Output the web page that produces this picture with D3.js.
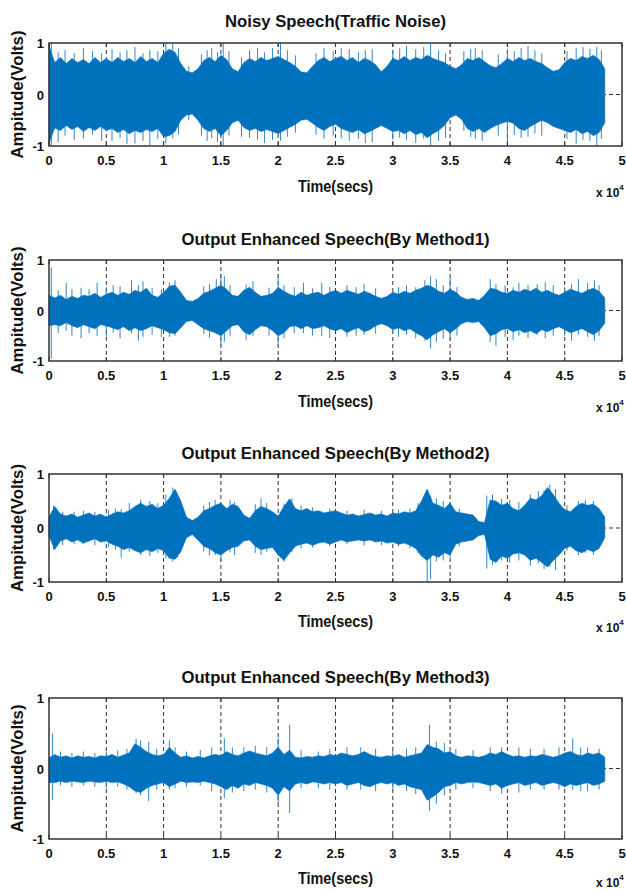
<!DOCTYPE html>
<html>
<head>
<meta charset="utf-8">
<script src="https://cdn.jsdelivr.net/npm/d3@7/dist/d3.min.js"></script>
<style>
  html, body { margin: 0; padding: 0; background: #fff; }
  svg { display: block; }
  text { font-family: "Liberation Sans", Arial, sans-serif; font-weight: bold; fill: #111; }
</style>
</head>
<body>
<svg id="chart" width="626" height="890"></svg>
<script>
// ---- data (x in units of 1e4 samples) ----
const xTicks = [0, 0.5, 1, 1.5, 2, 2.5, 3, 3.5, 4, 4.5, 5];
const xTickLabels = ["0", "0.5", "1", "1.5", "2", "2.5", "3", "3.5", "4", "4.5", "5"];
const yTicks = [-1, 0, 1];
const yTickLabels = ["-1", "0", "1"];
const titles = [
  "Noisy Speech(Traffic Noise)",
  "Output Enhanced Speech(By Method1)",
  "Output Enhanced Speech(By Method2)",
  "Output Enhanced Speech(By Method3)"
];
const STEP = 0.05; // envelope sample spacing (x1e4 samples)

// envelope: upper / lower amplitude every 500 samples
const noisyUpper = [0.95,0.62,0.72,0.6,0.7,0.62,0.68,0.6,0.72,0.62,0.7,0.62,0.72,0.64,0.7,0.62,0.74,0.64,0.7,0.62,
  0.8,0.88,0.82,0.6,0.45,0.42,0.5,0.66,0.72,0.64,0.76,0.68,0.5,0.44,0.62,0.7,0.64,0.72,0.66,0.7,
  0.74,0.68,0.62,0.55,0.44,0.42,0.55,0.66,0.72,0.64,0.7,0.74,0.66,0.72,0.62,0.7,0.66,0.58,0.44,0.55,
  0.7,0.66,0.74,0.66,0.72,0.68,0.76,0.7,0.66,0.62,0.55,0.5,0.58,0.7,0.66,0.72,0.64,0.56,0.52,0.6,
  0.7,0.64,0.72,0.66,0.7,0.64,0.6,0.52,0.45,0.48,0.62,0.7,0.66,0.74,0.7,0.76,0.68,0.5];
const noisyLower = [-0.95,-0.65,-0.7,-0.6,-0.68,-0.62,-0.72,-0.64,-0.7,-0.62,-0.7,-0.66,-0.74,-0.68,-0.76,-0.7,-0.74,-0.68,-0.72,-0.66,
  -0.82,-0.8,-0.72,-0.5,-0.4,-0.38,-0.5,-0.66,-0.72,-0.66,-0.8,-0.7,-0.55,-0.5,-0.64,-0.7,-0.66,-0.72,-0.68,-0.72,
  -0.76,-0.7,-0.64,-0.58,-0.5,-0.48,-0.56,-0.64,-0.7,-0.62,-0.58,-0.66,-0.7,-0.74,-0.68,-0.76,-0.72,-0.66,-0.6,-0.66,
  -0.72,-0.7,-0.76,-0.7,-0.78,-0.74,-0.84,-0.76,-0.7,-0.6,-0.45,-0.4,-0.48,-0.66,-0.72,-0.66,-0.74,-0.66,-0.6,-0.56,
  -0.52,-0.56,-0.66,-0.7,-0.62,-0.56,-0.5,-0.55,-0.62,-0.66,-0.7,-0.74,-0.68,-0.76,-0.72,-0.8,-0.74,-0.55];
const m1Upper = [0.3,0.25,0.3,0.22,0.28,0.24,0.3,0.28,0.34,0.26,0.32,0.36,0.3,0.36,0.32,0.4,0.36,0.44,0.3,0.26,
  0.36,0.48,0.5,0.36,0.2,0.18,0.24,0.34,0.38,0.44,0.5,0.42,0.3,0.28,0.4,0.46,0.36,0.28,0.3,0.34,
  0.46,0.38,0.32,0.28,0.36,0.3,0.34,0.36,0.3,0.36,0.4,0.34,0.4,0.36,0.32,0.38,0.34,0.28,0.24,0.28,
  0.36,0.32,0.38,0.34,0.4,0.44,0.5,0.46,0.38,0.34,0.42,0.36,0.26,0.22,0.24,0.2,0.3,0.44,0.42,0.36,
  0.34,0.4,0.36,0.42,0.38,0.44,0.36,0.4,0.34,0.3,0.36,0.42,0.38,0.34,0.4,0.44,0.38,0.25];
const m1Lower = [-0.3,-0.28,-0.3,-0.24,-0.3,-0.34,-0.28,-0.32,-0.36,-0.28,-0.3,-0.34,-0.38,-0.32,-0.4,-0.34,-0.4,-0.36,-0.3,-0.34,
  -0.38,-0.44,-0.46,-0.34,-0.22,-0.2,-0.28,-0.36,-0.4,-0.44,-0.5,-0.4,-0.3,-0.28,-0.42,-0.48,-0.38,-0.3,-0.32,-0.4,
  -0.5,-0.44,-0.32,-0.3,-0.36,-0.3,-0.36,-0.34,-0.3,-0.36,-0.4,-0.36,-0.44,-0.38,-0.34,-0.42,-0.38,-0.3,-0.26,-0.3,
  -0.38,-0.34,-0.4,-0.36,-0.44,-0.5,-0.58,-0.48,-0.42,-0.36,-0.44,-0.36,-0.26,-0.22,-0.24,-0.22,-0.34,-0.5,-0.46,-0.38,
  -0.36,-0.42,-0.38,-0.44,-0.4,-0.46,-0.38,-0.42,-0.36,-0.32,-0.38,-0.44,-0.4,-0.36,-0.42,-0.48,-0.4,-0.25];
const m2Upper = [0.2,0.4,0.26,0.22,0.26,0.2,0.24,0.28,0.22,0.26,0.2,0.26,0.3,0.28,0.32,0.4,0.46,0.4,0.44,0.36,
  0.42,0.55,0.72,0.5,0.2,0.14,0.2,0.32,0.36,0.42,0.46,0.36,0.44,0.4,0.24,0.18,0.32,0.4,0.36,0.3,
  0.22,0.4,0.54,0.36,0.32,0.36,0.3,0.32,0.28,0.3,0.32,0.28,0.24,0.26,0.22,0.25,0.28,0.24,0.26,0.22,
  0.28,0.26,0.3,0.28,0.32,0.5,0.72,0.46,0.42,0.36,0.46,0.3,0.28,0.26,0.24,0.12,0.1,0.52,0.5,0.42,
  0.46,0.36,0.32,0.42,0.55,0.52,0.6,0.75,0.62,0.46,0.34,0.3,0.4,0.46,0.42,0.44,0.36,0.2];
const m2Lower = [-0.15,-0.4,-0.24,-0.2,-0.26,-0.22,-0.28,-0.24,-0.2,-0.26,-0.24,-0.3,-0.34,-0.4,-0.36,-0.42,-0.46,-0.4,-0.44,-0.38,
  -0.42,-0.56,-0.58,-0.44,-0.18,-0.12,-0.22,-0.34,-0.38,-0.46,-0.5,-0.42,-0.36,-0.34,-0.24,-0.22,-0.34,-0.4,-0.38,-0.36,
  -0.5,-0.6,-0.46,-0.34,-0.3,-0.28,-0.32,-0.28,-0.26,-0.3,-0.26,-0.22,-0.26,-0.24,-0.22,-0.24,-0.22,-0.26,-0.24,-0.28,
  -0.26,-0.3,-0.28,-0.32,-0.38,-0.52,-0.6,-0.5,-0.54,-0.46,-0.5,-0.3,-0.26,-0.24,-0.22,-0.14,-0.12,-0.58,-0.64,-0.52,
  -0.56,-0.48,-0.46,-0.5,-0.6,-0.56,-0.64,-0.72,-0.6,-0.5,-0.38,-0.34,-0.42,-0.46,-0.4,-0.44,-0.38,-0.18];
const m3Upper = [0.15,0.2,0.16,0.18,0.15,0.18,0.16,0.17,0.15,0.18,0.17,0.2,0.16,0.19,0.22,0.35,0.3,0.24,0.2,0.18,
  0.2,0.3,0.22,0.16,0.18,0.15,0.17,0.15,0.18,0.2,0.18,0.24,0.2,0.18,0.22,0.25,0.22,0.2,0.18,0.22,
  0.3,0.2,0.26,0.16,0.15,0.17,0.16,0.18,0.17,0.2,0.18,0.22,0.2,0.18,0.2,0.24,0.2,0.17,0.16,0.18,
  0.17,0.2,0.16,0.18,0.2,0.22,0.34,0.3,0.28,0.22,0.24,0.18,0.16,0.18,0.17,0.16,0.18,0.22,0.2,0.24,
  0.2,0.17,0.18,0.16,0.18,0.17,0.2,0.18,0.16,0.18,0.22,0.24,0.2,0.18,0.22,0.2,0.22,0.16];
const m3Lower = [-0.2,-0.2,-0.18,-0.2,-0.18,-0.19,-0.2,-0.18,-0.19,-0.2,-0.18,-0.2,-0.19,-0.22,-0.26,-0.32,-0.34,-0.28,-0.24,-0.22,
  -0.2,-0.26,-0.22,-0.18,-0.2,-0.19,-0.2,-0.18,-0.2,-0.22,-0.26,-0.3,-0.24,-0.28,-0.22,-0.24,-0.2,-0.22,-0.24,-0.28,
  -0.38,-0.26,-0.32,-0.22,-0.2,-0.22,-0.19,-0.2,-0.22,-0.2,-0.22,-0.2,-0.24,-0.22,-0.2,-0.24,-0.26,-0.22,-0.2,-0.22,
  -0.2,-0.24,-0.22,-0.26,-0.28,-0.3,-0.45,-0.4,-0.34,-0.26,-0.24,-0.2,-0.22,-0.2,-0.19,-0.2,-0.22,-0.24,-0.22,-0.28,
  -0.24,-0.22,-0.2,-0.24,-0.22,-0.2,-0.24,-0.22,-0.2,-0.22,-0.26,-0.22,-0.24,-0.22,-0.2,-0.24,-0.22,-0.18];

// isolated peaks: [x (x1e4), positive peak, negative peak]
const noisySpikes = [[0.02,1.0,-1.0],[0.08,0.82,-0.92],[0.14,0.86,-0.8],[0.22,0.8,-0.88],[0.3,0.9,-0.85],[0.38,0.84,-0.78],
  [0.46,0.8,-0.9],[0.55,0.88,-0.9],[0.62,0.82,-0.84],[0.68,0.86,-0.96],[0.75,0.92,-0.95],[0.82,0.8,-0.9],[0.88,0.86,-0.98],
  [0.95,0.84,-0.86],[1.02,0.98,-0.95],[1.08,1.0,-0.85],[1.13,0.9,-0.78],[1.22,0.55,-0.5],[1.33,0.78,-0.8],[1.38,0.86,-0.9],
  [1.42,0.9,-0.85],[1.47,0.82,-0.92],[1.52,1.0,-1.0],[1.57,0.84,-0.8],[1.68,0.72,-0.82],[1.75,0.86,-0.84],[1.82,0.9,-0.88],
  [1.88,0.82,-0.94],[1.95,0.9,-0.88],[2.02,1.0,-0.9],[2.08,0.86,-0.82],[2.15,0.76,-0.74],[2.33,0.8,-0.78],[2.4,0.9,-0.86],
  [2.48,0.84,-0.8],[2.55,0.9,-0.85],[2.62,0.88,-0.9],[2.7,0.82,-0.86],[2.76,0.86,-0.94],[2.82,0.88,-0.92],[3.0,0.86,-0.88],
  [3.06,0.9,-0.84],[3.12,0.95,-0.88],[3.2,0.88,-0.94],[3.27,0.92,-0.86],[3.33,0.98,-1.0],[3.4,0.86,-0.9],[3.46,0.8,-0.84],
  [3.62,0.84,-0.7],[3.68,0.88,-0.82],[3.72,0.9,-0.86],[3.78,0.86,-0.9],[3.92,0.78,-0.8],[4.0,0.88,-0.9],[4.06,0.84,-0.78],
  [4.12,0.9,-0.84],[4.18,0.94,-0.82],[4.24,0.86,-0.76],[4.3,0.8,-0.8],[4.52,0.84,-0.86],[4.6,0.9,-0.95],[4.66,0.92,-0.88],
  [4.72,0.88,-0.9],[4.78,0.92,-1.0],[4.82,0.86,-0.86]];
const m1Spikes = [[0.02,0.85,-0.95],[0.08,0.4,-0.45],[0.15,0.55,-0.4],[0.2,0.42,-0.5],[0.28,0.45,-0.55],[0.35,0.42,-0.45],
  [0.42,0.55,-0.5],[0.5,0.46,-0.52],[0.56,0.5,-0.44],[0.62,0.48,-0.55],[0.72,0.6,-0.45],[0.78,0.5,-0.6],[0.82,0.58,-0.52],
  [0.9,0.45,-0.48],[0.98,0.42,-0.52],[1.05,0.55,-0.52],[1.1,0.6,-0.5],[1.35,0.48,-0.46],[1.4,0.52,-0.54],[1.46,0.62,-0.45],
  [1.5,0.72,-0.7],[1.53,0.68,-0.62],[1.58,0.5,-0.5],[1.72,0.52,-0.58],[1.78,0.58,-0.5],[1.92,0.45,-0.5],[2.0,0.72,-0.72],
  [2.05,0.5,-0.55],[2.14,0.46,-0.45],[2.22,0.55,-0.45],[2.3,0.44,-0.5],[2.38,0.55,-0.5],[2.45,0.46,-0.55],[2.6,0.5,-0.52],
  [2.68,0.46,-0.5],[2.75,0.52,-0.48],[2.85,0.44,-0.46],[3.05,0.46,-0.52],[3.12,0.5,-0.48],[3.2,0.46,-0.55],[3.28,0.6,-0.6],
  [3.33,0.68,-0.75],[3.38,0.62,-0.62],[3.44,0.5,-0.56],[3.5,0.65,-0.6],[3.56,0.46,-0.5],[3.85,0.62,-0.62],[3.9,0.52,-0.7],
  [3.98,0.5,-0.52],[4.05,0.46,-0.58],[4.1,0.55,-0.5],[4.18,0.5,-0.54],[4.26,0.52,-0.48],[4.33,0.56,-0.55],[4.4,0.5,-0.5],
  [4.5,0.46,-0.5],[4.56,0.52,-0.6],[4.62,0.62,-0.48],[4.7,0.55,-0.52],[4.76,0.6,-0.6],[4.8,0.5,-0.5]];
const m2Spikes = [[0.04,0.42,-0.4],[0.12,0.3,-0.32],[0.22,0.3,-0.3],[0.3,0.32,-0.3],[0.4,0.3,-0.32],[0.52,0.34,-0.36],
  [0.58,0.36,-0.4],[0.63,0.35,-0.55],[0.7,0.46,-0.44],[0.8,0.52,-0.5],[0.88,0.5,-0.52],[0.95,0.46,-0.46],[1.02,0.62,-0.56],
  [1.08,0.75,-0.62],[1.12,0.6,-0.55],[1.35,0.42,-0.44],[1.4,0.48,-0.5],[1.45,0.52,-0.5],[1.5,0.45,-0.62],[1.58,0.52,-0.45],
  [1.62,0.48,-0.5],[1.8,0.44,-0.46],[1.85,0.55,-0.5],[1.9,0.46,-0.44],[2.05,0.45,-0.62],[2.12,0.55,-0.45],[2.2,0.42,-0.38],
  [2.3,0.38,-0.36],[2.45,0.36,-0.34],[2.6,0.32,-0.3],[2.75,0.34,-0.32],[2.9,0.32,-0.32],[3.05,0.34,-0.34],[3.15,0.36,-0.38],
  [3.22,0.46,-0.46],[3.3,0.7,-1.0],[3.33,0.6,-0.95],[3.38,0.55,-0.62],[3.44,0.5,-0.6],[3.5,0.48,-0.55],[3.58,0.36,-0.34],
  [3.82,0.6,-0.75],[3.87,0.62,-0.68],[3.95,0.54,-0.6],[4.02,0.52,-0.64],[4.1,0.48,-0.6],[4.2,0.62,-0.7],[4.27,0.68,-0.66],
  [4.32,0.7,-0.76],[4.37,0.8,-0.72],[4.42,0.72,-0.78],[4.52,0.42,-0.42],[4.62,0.5,-0.5],[4.68,0.52,-0.46],[4.75,0.5,-0.5]];
const m3Spikes = [[0.03,0.5,-0.45],[0.1,0.24,-0.24],[0.2,0.22,-0.26],[0.3,0.24,-0.24],[0.4,0.22,-0.26],[0.5,0.24,-0.28],
  [0.6,0.26,-0.26],[0.68,0.28,-0.3],[0.76,0.42,-0.35],[0.8,0.4,-0.38],[0.87,0.38,-0.46],[0.94,0.28,-0.3],[1.05,0.4,-0.3],
  [1.1,0.3,-0.28],[1.2,0.24,-0.26],[1.32,0.26,-0.24],[1.42,0.3,-0.32],[1.53,0.43,-0.42],[1.6,0.3,-0.34],[1.7,0.3,-0.32],
  [1.8,0.32,-0.3],[1.9,0.3,-0.34],[2.0,0.43,-0.5],[2.1,0.62,-0.63],[2.2,0.26,-0.28],[2.35,0.24,-0.28],[2.45,0.28,-0.3],
  [2.6,0.3,-0.3],[2.72,0.3,-0.3],[2.85,0.28,-0.32],[3.0,0.26,-0.3],[3.12,0.28,-0.32],[3.2,0.3,-0.36],[3.32,0.62,-0.6],
  [3.38,0.38,-0.5],[3.45,0.36,-0.38],[3.55,0.28,-0.3],[3.7,0.26,-0.28],[3.85,0.3,-0.32],[3.95,0.3,-0.36],[4.1,0.3,-0.34],
  [4.2,0.28,-0.3],[4.32,0.28,-0.3],[4.45,0.3,-0.3],[4.57,0.43,-0.3],[4.64,0.3,-0.32],[4.7,0.3,-0.32],[4.8,0.28,-0.3]];

const series = [
  {upper: noisyUpper, lower: noisyLower, spikes: noisySpikes},
  {upper: m1Upper, lower: m1Lower, spikes: m1Spikes},
  {upper: m2Upper, lower: m2Lower, spikes: m2Spikes},
  {upper: m3Upper, lower: m3Lower, spikes: m3Spikes}
];

// ---- layout ----
const panels = [
  {top: 43, bottom: 146, title: 20, xlab: 186, exp: 197},
  {top: 260, bottom: 361, title: 238, xlab: 401, exp: 412},
  {top: 474, bottom: 582, title: 452, xlab: 621, exp: 632},
  {top: 698, bottom: 839, title: 676, xlab: 878, exp: 887}
];
const titleWidths = [221, 308, 308, 308];
const left = 49, right = 622;
const blue = "#0072BD";
const svg = d3.select("#chart");

panels.forEach((p, k) => {
  const s = series[k];
  const x = d3.scaleLinear().domain([0, 5]).range([left, right]);
  const y = d3.scaleLinear().domain([-1, 1]).range([p.bottom, p.top]);
  const g = svg.append("g");

  // grid
  g.selectAll("line.gx").data(xTicks.slice(1, -1)).join("line")
    .attr("x1", d => x(d)).attr("x2", d => x(d))
    .attr("y1", p.top).attr("y2", p.bottom)
    .attr("stroke", "#333").attr("stroke-width", 1).attr("stroke-dasharray", "4,3");
  g.append("line").attr("x1", left).attr("x2", right).attr("y1", y(0)).attr("y2", y(0))
    .attr("stroke", "#333").attr("stroke-width", 1).attr("stroke-dasharray", "4,3");

  // isolated peaks (under the dense body, so only their tips show)
  g.selectAll("line.sp").data(s.spikes).join("line")
    .attr("x1", d => x(d[0])).attr("x2", d => x(d[0]))
    .attr("y1", d => y(d[1])).attr("y2", d => y(d[2]))
    .attr("stroke", "#2f86cc").attr("stroke-width", 1);

  // waveform envelope
  const area = d3.area()
    .x((d, i) => x(i * STEP))
    .y0((d, i) => y(s.lower[i]))
    .y1((d, i) => y(s.upper[i]))
    .curve(d3.curveLinear);
  g.append("path").datum(s.upper).attr("d", area)
    .attr("fill", blue).attr("stroke", blue).attr("stroke-width", 0.6);

  // box
  g.append("rect").attr("x", left).attr("y", p.top)
    .attr("width", right - left).attr("height", p.bottom - p.top)
    .attr("fill", "none").attr("stroke", "#333").attr("stroke-width", 1.5);

  // tick marks (inside)
  g.selectAll("line.tb").data(xTicks).join("line")
    .attr("x1", d => x(d)).attr("x2", d => x(d))
    .attr("y1", p.bottom).attr("y2", p.bottom - 4).attr("stroke", "#333");
  g.selectAll("line.tt").data(xTicks).join("line")
    .attr("x1", d => x(d)).attr("x2", d => x(d))
    .attr("y1", p.top).attr("y2", p.top + 4).attr("stroke", "#333");

  // tick labels
  g.selectAll("text.xl").data(xTicks).join("text")
    .attr("x", d => x(d)).attr("y", p.bottom + 19)
    .attr("text-anchor", "middle").attr("font-size", 13)
    .text((d, i) => xTickLabels[i]);
  g.selectAll("text.yl").data(yTicks).join("text")
    .attr("x", left - 5).attr("y", d => y(d) + 5)
    .attr("text-anchor", "end").attr("font-size", 13)
    .text((d, i) => yTickLabels[i]);

  // titles & labels
  g.append("text").attr("x", (left + right) / 2).attr("y", p.title + 7)
    .attr("text-anchor", "middle").attr("font-size", 17)
    .attr("textLength", titleWidths[k]).attr("lengthAdjust", "spacingAndGlyphs")
    .text(titles[k]);
  g.append("text").attr("x", (left + right) / 2).attr("y", p.xlab + 6)
    .attr("text-anchor", "middle").attr("font-size", 16)
    .attr("textLength", 75).attr("lengthAdjust", "spacingAndGlyphs")
    .text("Time(secs)");
  const mid = (p.top + p.bottom) / 2;
  g.append("text").attr("transform", `translate(23,${mid}) rotate(-90)`)
    .attr("text-anchor", "middle").attr("font-size", 16)
    .attr("textLength", 128).attr("lengthAdjust", "spacingAndGlyphs")
    .text("Ampitude(Volts)");
  const ex = g.append("text").attr("x", 596).attr("y", p.exp).attr("font-size", 12);
  ex.append("tspan").text("x 10");
  ex.append("tspan").attr("dy", -7).attr("font-size", 8).text("4");
});
</script>
</body>
</html>
